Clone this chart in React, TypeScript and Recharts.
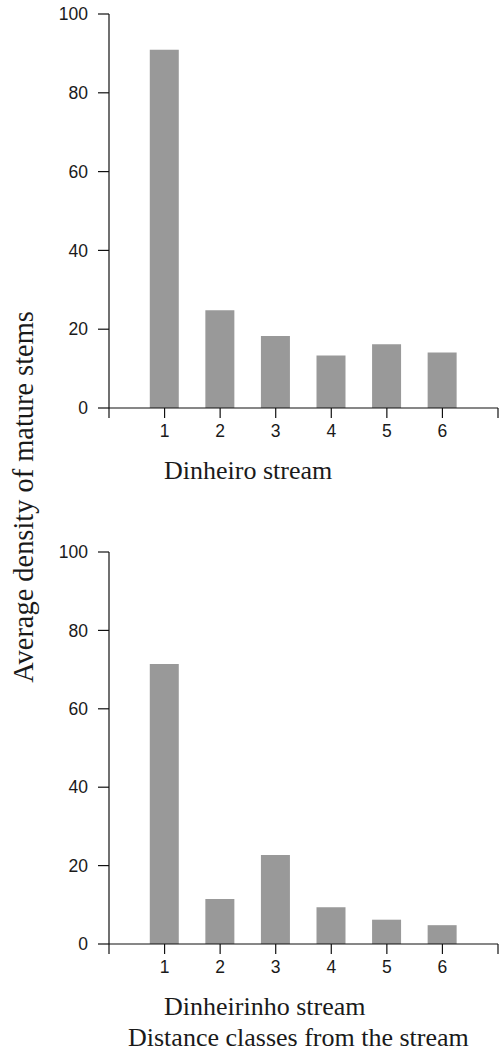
import React from 'react';
import { BarChart, Bar, XAxis, YAxis } from 'recharts';

const distanceClasses = [1, 2, 3, 4, 5, 6];
const dinheiroDensity = [90.9, 24.8, 18.3, 13.3, 16.2, 14.1];
const dinheirinhoDensity = [71.4, 11.5, 22.7, 9.4, 6.2, 4.8];
const xTicks = [0, 1, 2, 3, 4, 5, 6, 7];
const yTicks = [0, 20, 40, 60, 80, 100];

const SERIF = '"Liberation Serif", "Times New Roman", serif';
const SANS = '"Liberation Sans", Arial, sans-serif';

const tickStyle = { fontFamily: SANS, fontSize: 17.5, fill: '#1a1a1a' };

interface StreamChartProps {
  values: number[];
  top: number;
  marginTop: number;
  marginBottom: number;
  height: number;
}

const StreamChart: React.FC<StreamChartProps> = ({ values, top, marginTop, marginBottom, height }) => {
  const data = distanceClasses.map((c, i) => ({ cls: c, density: values[i] }));
  return (
    <div style={{ position: 'absolute', left: 0, top }}>
      <BarChart
        width={503}
        height={height}
        data={data}
        margin={{ top: marginTop, right: 5, left: 0, bottom: marginBottom }}
      >
        <XAxis
          type="number"
          dataKey="cls"
          domain={[0, 7]}
          ticks={xTicks}
          interval={0}
          height={60}
          stroke="#111"
          strokeWidth={1.2}
          tickSize={10}
          tickMargin={7}
          tick={tickStyle}
          tickFormatter={(v: number) => (v === 0 || v === 7 ? '' : String(v))}
        />
        <YAxis
          type="number"
          domain={[0, 100]}
          ticks={yTicks}
          width={109}
          stroke="#111"
          strokeWidth={1.2}
          tickSize={11}
          tickMargin={10}
          tick={tickStyle}
        />
        <Bar dataKey="density" fill="#999999" barSize={29} isAnimationActive={false} />
      </BarChart>
    </div>
  );
};

export default function App() {
  return (
    <div style={{ position: 'absolute', left: 0, top: 0, width: 503, height: 1051, background: '#fff' }}>
      <StreamChart values={dinheiroDensity} top={0} marginTop={14} marginBottom={22} height={490} />
      <StreamChart values={dinheirinhoDensity} top={530} marginTop={22} marginBottom={26} height={500} />
      <svg
        width={503}
        height={1051}
        style={{ position: 'absolute', left: 0, top: 0, pointerEvents: 'none' }}
      >
        <g fontFamily={SERIF} fontSize={26} fill="#1a1a1a">
          <text x={164} y={479}>Dinheiro stream</text>
          <text x={164} y={1015}>Dinheirinho stream</text>
          <text x={128} y={1046}>Distance classes from the stream</text>
          <text
            x={0}
            y={0}
            fontSize={28.4}
            textAnchor="middle"
            transform="translate(33 497) rotate(-90)"
          >
            Average density of mature stems
          </text>
        </g>
      </svg>
    </div>
  );
}
